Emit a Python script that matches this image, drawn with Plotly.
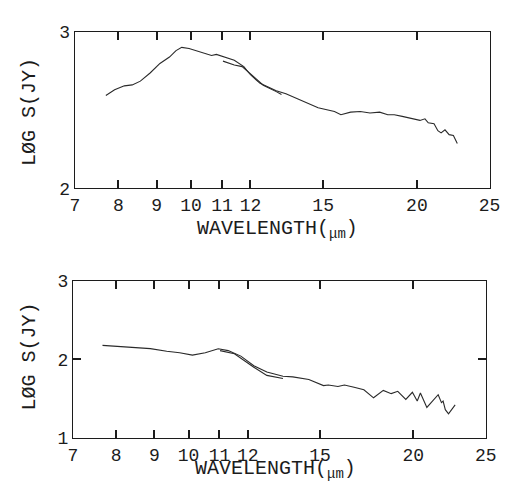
import math
import plotly.graph_objects as go

# ---- spectra: wavelength (um) vs log flux density (Jy) ----
top_main_wl = [7.70, 7.91, 8.15, 8.35, 8.56, 8.82, 9.09, 9.36, 9.55, 9.72, 9.94, 10.23,
               10.65, 10.81, 11.08, 11.42, 11.76, 12.00, 12.36, 12.99, 13.38, 14.20,
               14.77, 15.53, 15.84, 16.32, 16.81, 17.32, 17.84, 18.29, 18.66, 19.12,
               19.51, 20.19, 20.50, 20.71, 21.08, 21.33, 21.54, 21.80, 22.08, 22.37, 22.64]
top_main_logs = [2.594, 2.631, 2.656, 2.662, 2.686, 2.738, 2.799, 2.840, 2.881, 2.902, 2.895, 2.877,
                 2.850, 2.857, 2.840, 2.820, 2.779, 2.727, 2.672, 2.625, 2.605, 2.553,
                 2.516, 2.492, 2.471, 2.488, 2.492, 2.482, 2.488, 2.471, 2.471, 2.461,
                 2.451, 2.435, 2.445, 2.420, 2.414, 2.369, 2.355, 2.375, 2.344, 2.338, 2.287]

top_second_wl = [11.03, 11.42, 11.70, 12.00, 12.48, 12.99, 13.20]
top_second_logs = [2.814, 2.789, 2.779, 2.730, 2.660, 2.619, 2.600]

bot_main_wl = [7.67, 8.05, 8.46, 8.89, 9.35, 9.73, 10.12, 10.53, 10.96, 11.30, 11.75, 12.23,
               12.73, 13.38, 13.79, 14.49, 15.16, 15.39, 15.85, 16.17, 16.66, 17.17, 17.69,
               18.23, 18.68, 19.06, 19.54, 19.94, 20.24, 20.44, 20.85, 21.59, 21.81, 21.92,
               22.07, 22.29, 22.75]
bot_main_logs = [2.176, 2.163, 2.155, 2.135, 2.102, 2.082, 2.052, 2.082, 2.134, 2.110, 2.040, 1.918,
                 1.837, 1.783, 1.776, 1.743, 1.665, 1.673, 1.653, 1.673, 1.645, 1.612, 1.510,
                 1.604, 1.563, 1.592, 1.489, 1.580, 1.469, 1.571, 1.388, 1.550, 1.449, 1.469,
                 1.359, 1.305, 1.420]

bot_second_wl = [11.02, 11.52, 12.23, 12.73, 13.38]
bot_second_logs = [2.110, 2.069, 1.898, 1.795, 1.755]

x_tick_vals = [7, 8, 9, 10, 11, 12, 15, 20, 25]
x_limits = [7, 25]
top_y_limits = [2, 3]
bot_y_limits = [1, 3]
top_y_ticks = [2, 3]
bot_y_ticks = [1, 2, 3]

FONT = "Liberation Mono"
INK = "#1c1c1c"
W, H = 520, 495

fig = go.Figure()
line_style = dict(color="#2a2a2a", width=1.1)
for xs, ys, xa, ya in [(top_main_wl, top_main_logs, "x", "y"),
                       (top_second_wl, top_second_logs, "x", "y"),
                       (bot_main_wl, bot_main_logs, "x2", "y2"),
                       (bot_second_wl, bot_second_logs, "x2", "y2")]:
    fig.add_trace(go.Scatter(x=xs, y=ys, mode="lines", line=line_style,
                             xaxis=xa, yaxis=ya, showlegend=False))

# boxed frame with inward ticks on every edge
frame_axis = dict(
    showline=True, linecolor=INK, mirror="allticks",
    ticks="inside", ticklen=8, tickwidth=1.5, tickcolor=INK,
    showgrid=False,
    tickfont=dict(family=FONT, size=18, color=INK),
)

xrange = [math.log10(x_limits[0]), math.log10(x_limits[1])]
x_text = [str(v) for v in x_tick_vals]

fig.update_layout(
    width=W, height=H,
    margin=dict(l=0, r=0, t=0, b=0),
    paper_bgcolor="white", plot_bgcolor="white",
    xaxis=dict(frame_axis, type="log", range=xrange, domain=[72 / W, 500 / W], anchor="y",
               tickvals=x_tick_vals, ticktext=x_text),
    yaxis=dict(frame_axis, range=top_y_limits, domain=[1 - 187 / H, 1 - 24 / H], anchor="x",
               tickvals=top_y_ticks, ticktext=[str(v) for v in top_y_ticks]),
    xaxis2=dict(frame_axis, type="log", range=xrange, domain=[70 / W, 496 / W], anchor="y2",
                tickvals=x_tick_vals, ticktext=x_text),
    yaxis2=dict(frame_axis, range=bot_y_limits, domain=[1 - 447 / H, 1 - 283 / H], anchor="x2",
                tickvals=bot_y_ticks, ticktext=[str(v) for v in bot_y_ticks]),
)

title_font = dict(family=FONT, size=20, color=INK)
ytitle = "LØG S(JY)"
xtitle = "WAVELENGTH(<sub>μm</sub>)"
annotations = [
    dict(text=ytitle, x=25 / W, y=1 - 107 / H, textangle=-90, yanchor="middle"),
    dict(text=xtitle, x=281 / W, y=1 - 230 / H, yanchor="middle"),
    dict(text=ytitle, x=25 / W, y=1 - 362 / H, textangle=-90, yanchor="middle"),
    dict(text=xtitle, x=279 / W, y=0, yanchor="bottom"),
]
for a in annotations:
    fig.add_annotation(xref="paper", yref="paper", showarrow=False,
                       xanchor="center", font=title_font, **a)

fig.write_html("out.html")
